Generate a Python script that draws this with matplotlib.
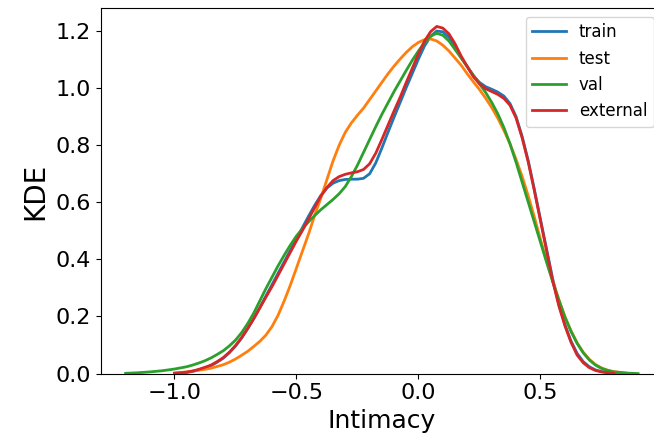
import numpy as np
import matplotlib
matplotlib.use("Agg")
import matplotlib.pyplot as plt

nan = np.nan

# intimacy positions the densities were read at
intimacy = [-1.20, -1.15, -1.10, -1.05,
            -1.000, -0.975, -0.950, -0.925, -0.900, -0.875, -0.850, -0.825, -0.800, -0.775,
            -0.750, -0.725, -0.700, -0.675, -0.650, -0.625, -0.600, -0.575, -0.550, -0.525,
            -0.500, -0.475, -0.450, -0.425, -0.400, -0.375, -0.350, -0.325, -0.300, -0.275,
            -0.250, -0.225, -0.200, -0.175, -0.150, -0.125, -0.100, -0.075, -0.050, -0.025,
            0.000, 0.025, 0.050, 0.075, 0.100, 0.125, 0.150, 0.175, 0.200, 0.225,
            0.250, 0.275, 0.300, 0.325, 0.350, 0.375, 0.400, 0.425, 0.450, 0.475,
            0.500, 0.525, 0.550, 0.575, 0.600, 0.625, 0.650, 0.675, 0.700, 0.725,
            0.750, 0.775, 0.800,
            0.85, 0.90]

kde_train = [nan, nan, nan, nan,
             0.001, 0.002, 0.004, 0.008, 0.013, 0.020, 0.028, 0.040, 0.054, 0.073,
             0.096, 0.124, 0.157, 0.193, 0.232, 0.272, 0.312, 0.352, 0.392, 0.432,
             0.472, 0.512, 0.552, 0.590, 0.624, 0.650, 0.667, 0.676, 0.680, 0.681,
             0.681, 0.684, 0.700, 0.738, 0.790, 0.845, 0.898, 0.950, 1.002, 1.052,
             1.102, 1.148, 1.182, 1.200, 1.197, 1.178, 1.145, 1.108, 1.075, 1.043,
             1.020, 1.005, 0.996, 0.986, 0.972, 0.946, 0.900, 0.830, 0.745, 0.645,
             0.540, 0.436, 0.332, 0.244, 0.172, 0.114, 0.071, 0.042, 0.024, 0.013,
             0.007, 0.004, 0.002,
             0.000, nan]

kde_test = [nan, nan, nan, nan,
            0.002, 0.004, 0.006, 0.009, 0.012, 0.015, 0.019, 0.025, 0.031, 0.040,
            0.051, 0.064, 0.078, 0.095, 0.113, 0.135, 0.165, 0.205, 0.255, 0.310,
            0.370, 0.430, 0.490, 0.555, 0.615, 0.680, 0.745, 0.800, 0.845, 0.878,
            0.905, 0.930, 0.960, 0.990, 1.020, 1.050, 1.077, 1.102, 1.125, 1.145,
            1.160, 1.170, 1.172, 1.165, 1.150, 1.130, 1.105, 1.080, 1.050, 1.022,
            0.995, 0.965, 0.932, 0.895, 0.852, 0.805, 0.750, 0.690, 0.622, 0.548,
            0.470, 0.395, 0.325, 0.260, 0.200, 0.150, 0.108, 0.075, 0.050, 0.032,
            0.020, 0.012, 0.007,
            0.002, nan]

kde_val = [0.001, 0.003, 0.006, 0.010,
           0.016, 0.020, 0.024, 0.030, 0.037, 0.045, 0.055, 0.067, 0.080, 0.097,
           0.117, 0.143, 0.175, 0.212, 0.255, 0.298, 0.338, 0.378, 0.415, 0.450,
           0.482, 0.508, 0.532, 0.554, 0.574, 0.592, 0.610, 0.630, 0.655, 0.690,
           0.730, 0.775, 0.820, 0.865, 0.908, 0.948, 0.988, 1.025, 1.062, 1.098,
           1.130, 1.160, 1.182, 1.192, 1.185, 1.165, 1.135, 1.105, 1.075, 1.045,
           1.015, 0.985, 0.950, 0.910, 0.862, 0.805, 0.740, 0.670, 0.600, 0.530,
           0.460, 0.390, 0.322, 0.258, 0.198, 0.148, 0.106, 0.073, 0.048, 0.030,
           0.018, 0.011, 0.006,
           0.002, 0.000]

kde_external = [nan, nan, nan, nan,
                0.001, 0.003, 0.005, 0.009, 0.015, 0.022, 0.030, 0.042, 0.056, 0.075,
                0.098, 0.126, 0.158, 0.192, 0.230, 0.268, 0.305, 0.345, 0.385, 0.425,
                0.465, 0.502, 0.542, 0.582, 0.622, 0.652, 0.676, 0.690, 0.698, 0.703,
                0.707, 0.715, 0.735, 0.772, 0.820, 0.870, 0.920, 0.968, 1.020, 1.070,
                1.120, 1.165, 1.198, 1.216, 1.210, 1.190, 1.155, 1.112, 1.075, 1.040,
                1.015, 0.998, 0.988, 0.978, 0.964, 0.940, 0.895, 0.825, 0.740, 0.640,
                0.535, 0.430, 0.325, 0.238, 0.168, 0.110, 0.065, 0.038, 0.021, 0.011,
                0.006, 0.003, 0.001,
                nan, nan]

labels = ["train", "test", "val", "external"]
colors = ["#1f77b4", "#ff7f0e", "#2ca02c", "#d62728"]

fig = plt.figure(figsize=(6.54, 4.45), dpi=100)
# axes run a little past the right edge, as in the cropped original
ax = fig.add_axes([100.5 / 654, (445 - 373.6) / 445, 562 / 654, 365.3 / 445])

for series, label, color in zip([kde_train, kde_test, kde_val, kde_external], labels, colors):
    ax.plot(intimacy, series, color=color, lw=2, label=label)

ax.set_xlim(-1.303, 1.0)
ax.set_ylim(0, 1.2795)
ax.set_xticks([-1.0, -0.5, 0.0, 0.5])
ax.set_yticks([0.0, 0.2, 0.4, 0.6, 0.8, 1.0, 1.2])
ax.tick_params(labelsize=16)
ax.set_xlabel("Intimacy", fontsize=18)
ax.set_ylabel("KDE", fontsize=20)
ax.legend(loc="upper right", fontsize=12)

fig.savefig("out.png", dpi=100)
